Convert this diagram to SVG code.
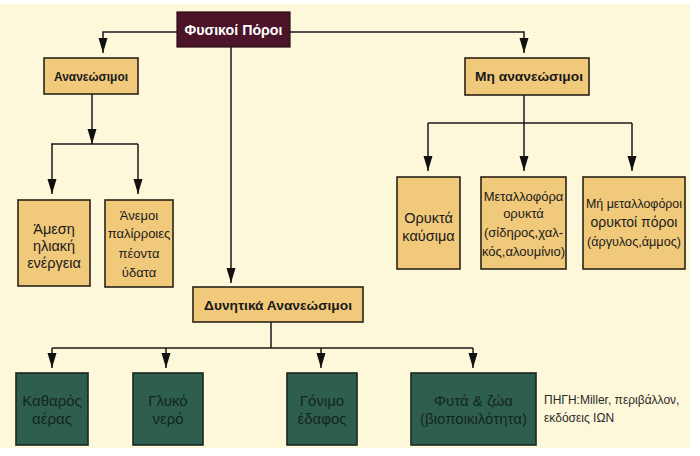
<svg xmlns="http://www.w3.org/2000/svg" width="700" height="456" viewBox="0 0 700 456">
<defs>
<style>
.bg{fill:#fdf8d9}
.tan{fill:#f1c97a;stroke:#2a2418;stroke-width:1.6}
.grn{fill:#2e5e4e;stroke:#1a2620;stroke-width:1.6}
.root{fill:#4b1428;stroke:#2a0a14;stroke-width:1.2}
.edge{fill:none;stroke:#1a1a1a;stroke-width:1.5}
.ah{fill:#111}
text{font-family:"Liberation Sans","Noto Sans",sans-serif;text-anchor:middle}
.h{font-size:13.5px;font-weight:bold;fill:#1a1a1a}
.rt{font-size:14px;font-weight:bold;fill:#ffffff}
.t{font-size:14.5px;fill:#1a1a1a}
.s{font-size:13px;fill:#1a1a1a}
.m{font-size:14px;fill:#1a1a1a}
.g{font-size:15px;fill:#14261f}
.src{font-size:12px;fill:#2a2a2a;text-anchor:start}
</style>
</defs>
<rect x="0" y="0" width="700" height="456" fill="#ffffff"/>
<rect class="bg" x="0" y="4" width="690" height="444"/>

<g id="connectors">
<path class="edge" d="M177,32 H103 V53"/>
<path class="edge" d="M290,32 H524 V53"/>
<path class="edge" d="M231,47 V283"/>
<path class="edge" d="M92,94 V144"/>
<path class="edge" d="M51,144 H138"/>
<path class="edge" d="M52,144 V194"/>
<path class="edge" d="M138,144 V194"/>
<path class="edge" d="M524,95 V171"/>
<path class="edge" d="M428,123 H632"/>
<path class="edge" d="M428,123 V171"/>
<path class="edge" d="M632,123 V171"/>
<path class="edge" d="M271,322 V348"/>
<path class="edge" d="M52,348 H473"/>
<path class="edge" d="M52,348 V368"/>
<path class="edge" d="M166,348 V368"/>
<path class="edge" d="M321,348 V368"/>
<path class="edge" d="M473,348 V368"/>
<path class="ah" d="M98.5,38 L107.5,38 L103,53 z"/>
<path class="ah" d="M519.5,38 L528.5,38 L524,53 z"/>
<path class="ah" d="M226.5,268 L235.5,268 L231,283 z"/>
<path class="ah" d="M87.5,129 L96.5,129 L92,144 z"/>
<path class="ah" d="M47.5,179 L56.5,179 L52,194 z"/>
<path class="ah" d="M133.5,179 L142.5,179 L138,194 z"/>
<path class="ah" d="M423.5,156 L432.5,156 L428,171 z"/>
<path class="ah" d="M519.5,156 L528.5,156 L524,171 z"/>
<path class="ah" d="M627.5,156 L636.5,156 L632,171 z"/>
<path class="ah" d="M47.5,353 L56.5,353 L52,368 z"/>
<path class="ah" d="M161.5,353 L170.5,353 L166,368 z"/>
<path class="ah" d="M316.5,353 L325.5,353 L321,368 z"/>
<path class="ah" d="M468.5,353 L477.5,353 L473,368 z"/>
</g>

<g id="n-root">
<rect class="root" x="177" y="12" width="113" height="35"/>
<text class="rt" x="233.5" y="35" textLength="98" lengthAdjust="spacingAndGlyphs">Φυσικοί Πόροι</text>
</g>
<g id="n-ananeosimoi">
<rect class="tan" x="44" y="58" width="94" height="36"/>
<text class="h" x="91" y="81" textLength="74" lengthAdjust="spacingAndGlyphs">Ανανεώσιμοι</text>
</g>
<g id="n-mi-ananeosimoi">
<rect class="tan" x="465" y="58" width="124" height="37"/>
<text class="h" x="529" y="81" textLength="108" lengthAdjust="spacingAndGlyphs">Μη ανανεώσιμοι</text>
</g>
<g id="n-amesi">
<rect class="tan" x="18" y="200" width="72" height="86"/>
<text class="t" x="54" y="234">Άμεση</text>
<text class="t" x="54" y="251">ηλιακή</text>
<text class="t" x="54" y="268">ενέργεια</text>
</g>
<g id="n-anemoi">
<rect class="tan" x="105" y="200" width="68" height="87"/>
<text class="s" x="139" y="220">Άνεμοι</text>
<text class="s" x="139" y="238">παλίρροιες</text>
<text class="s" x="139" y="258">πέοντα</text>
<text class="s" x="139" y="277">ύδατα</text>
</g>
<g id="n-orykta-kausima">
<rect class="tan" x="397" y="177" width="63" height="92"/>
<text class="t" x="428.5" y="223">Ορυκτά</text>
<text class="t" x="428.5" y="241">καύσιμα</text>
</g>
<g id="n-metallofora">
<rect class="tan" x="481" y="177" width="85" height="92"/>
<text class="s" x="523.5" y="201">Μεταλλοφόρα</text>
<text class="s" x="523.5" y="218">ορυκτά</text>
<text class="s" x="523.5" y="237">(σίδηρος,χαλ-</text>
<text class="s" x="523.5" y="256">κός,αλουμίνιο)</text>
</g>
<g id="n-mi-metallofora">
<rect class="tan" x="583" y="177" width="102" height="92"/>
<text class="s" x="634" y="208" textLength="96" lengthAdjust="spacingAndGlyphs">Μή μεταλλοφόροι</text>
<text class="m" x="634" y="227">ορυκτοί πόροι</text>
<text class="s" x="634" y="246" textLength="94" lengthAdjust="spacingAndGlyphs">(άργυλος,άμμος)</text>
</g>
<g id="n-dynitika">
<rect class="tan" x="193" y="287" width="170" height="35"/>
<text class="h" x="278" y="310" textLength="148" lengthAdjust="spacingAndGlyphs">Δυνητικά Ανανεώσιμοι</text>
</g>
<g id="n-katharos">
<rect class="grn" x="16" y="373" width="72" height="72"/>
<text class="g" x="52" y="406">Καθαρός</text>
<text class="g" x="52" y="424">αέρας</text>
</g>
<g id="n-glyko">
<rect class="grn" x="133" y="373" width="70" height="72"/>
<text class="g" x="168" y="406">Γλυκό</text>
<text class="g" x="168" y="424">νερό</text>
</g>
<g id="n-gonimo">
<rect class="grn" x="287" y="373" width="70" height="72"/>
<text class="g" x="322" y="406">Γόνιμο</text>
<text class="g" x="322" y="424">έδαφος</text>
</g>
<g id="n-fyta">
<rect class="grn" x="411" y="373" width="125" height="72"/>
<text class="g" x="473.5" y="406">Φυτά &amp; ζώα</text>
<text class="g" x="473.5" y="424">(βιοποικιλότητα)</text>
</g>
<g id="source">
<text class="src" x="544" y="404">ΠΗΓΗ:Miller, περιβάλλον,</text>
<text class="src" x="544" y="422">εκδόσεις ΙΩΝ</text>
</g>
</svg>
